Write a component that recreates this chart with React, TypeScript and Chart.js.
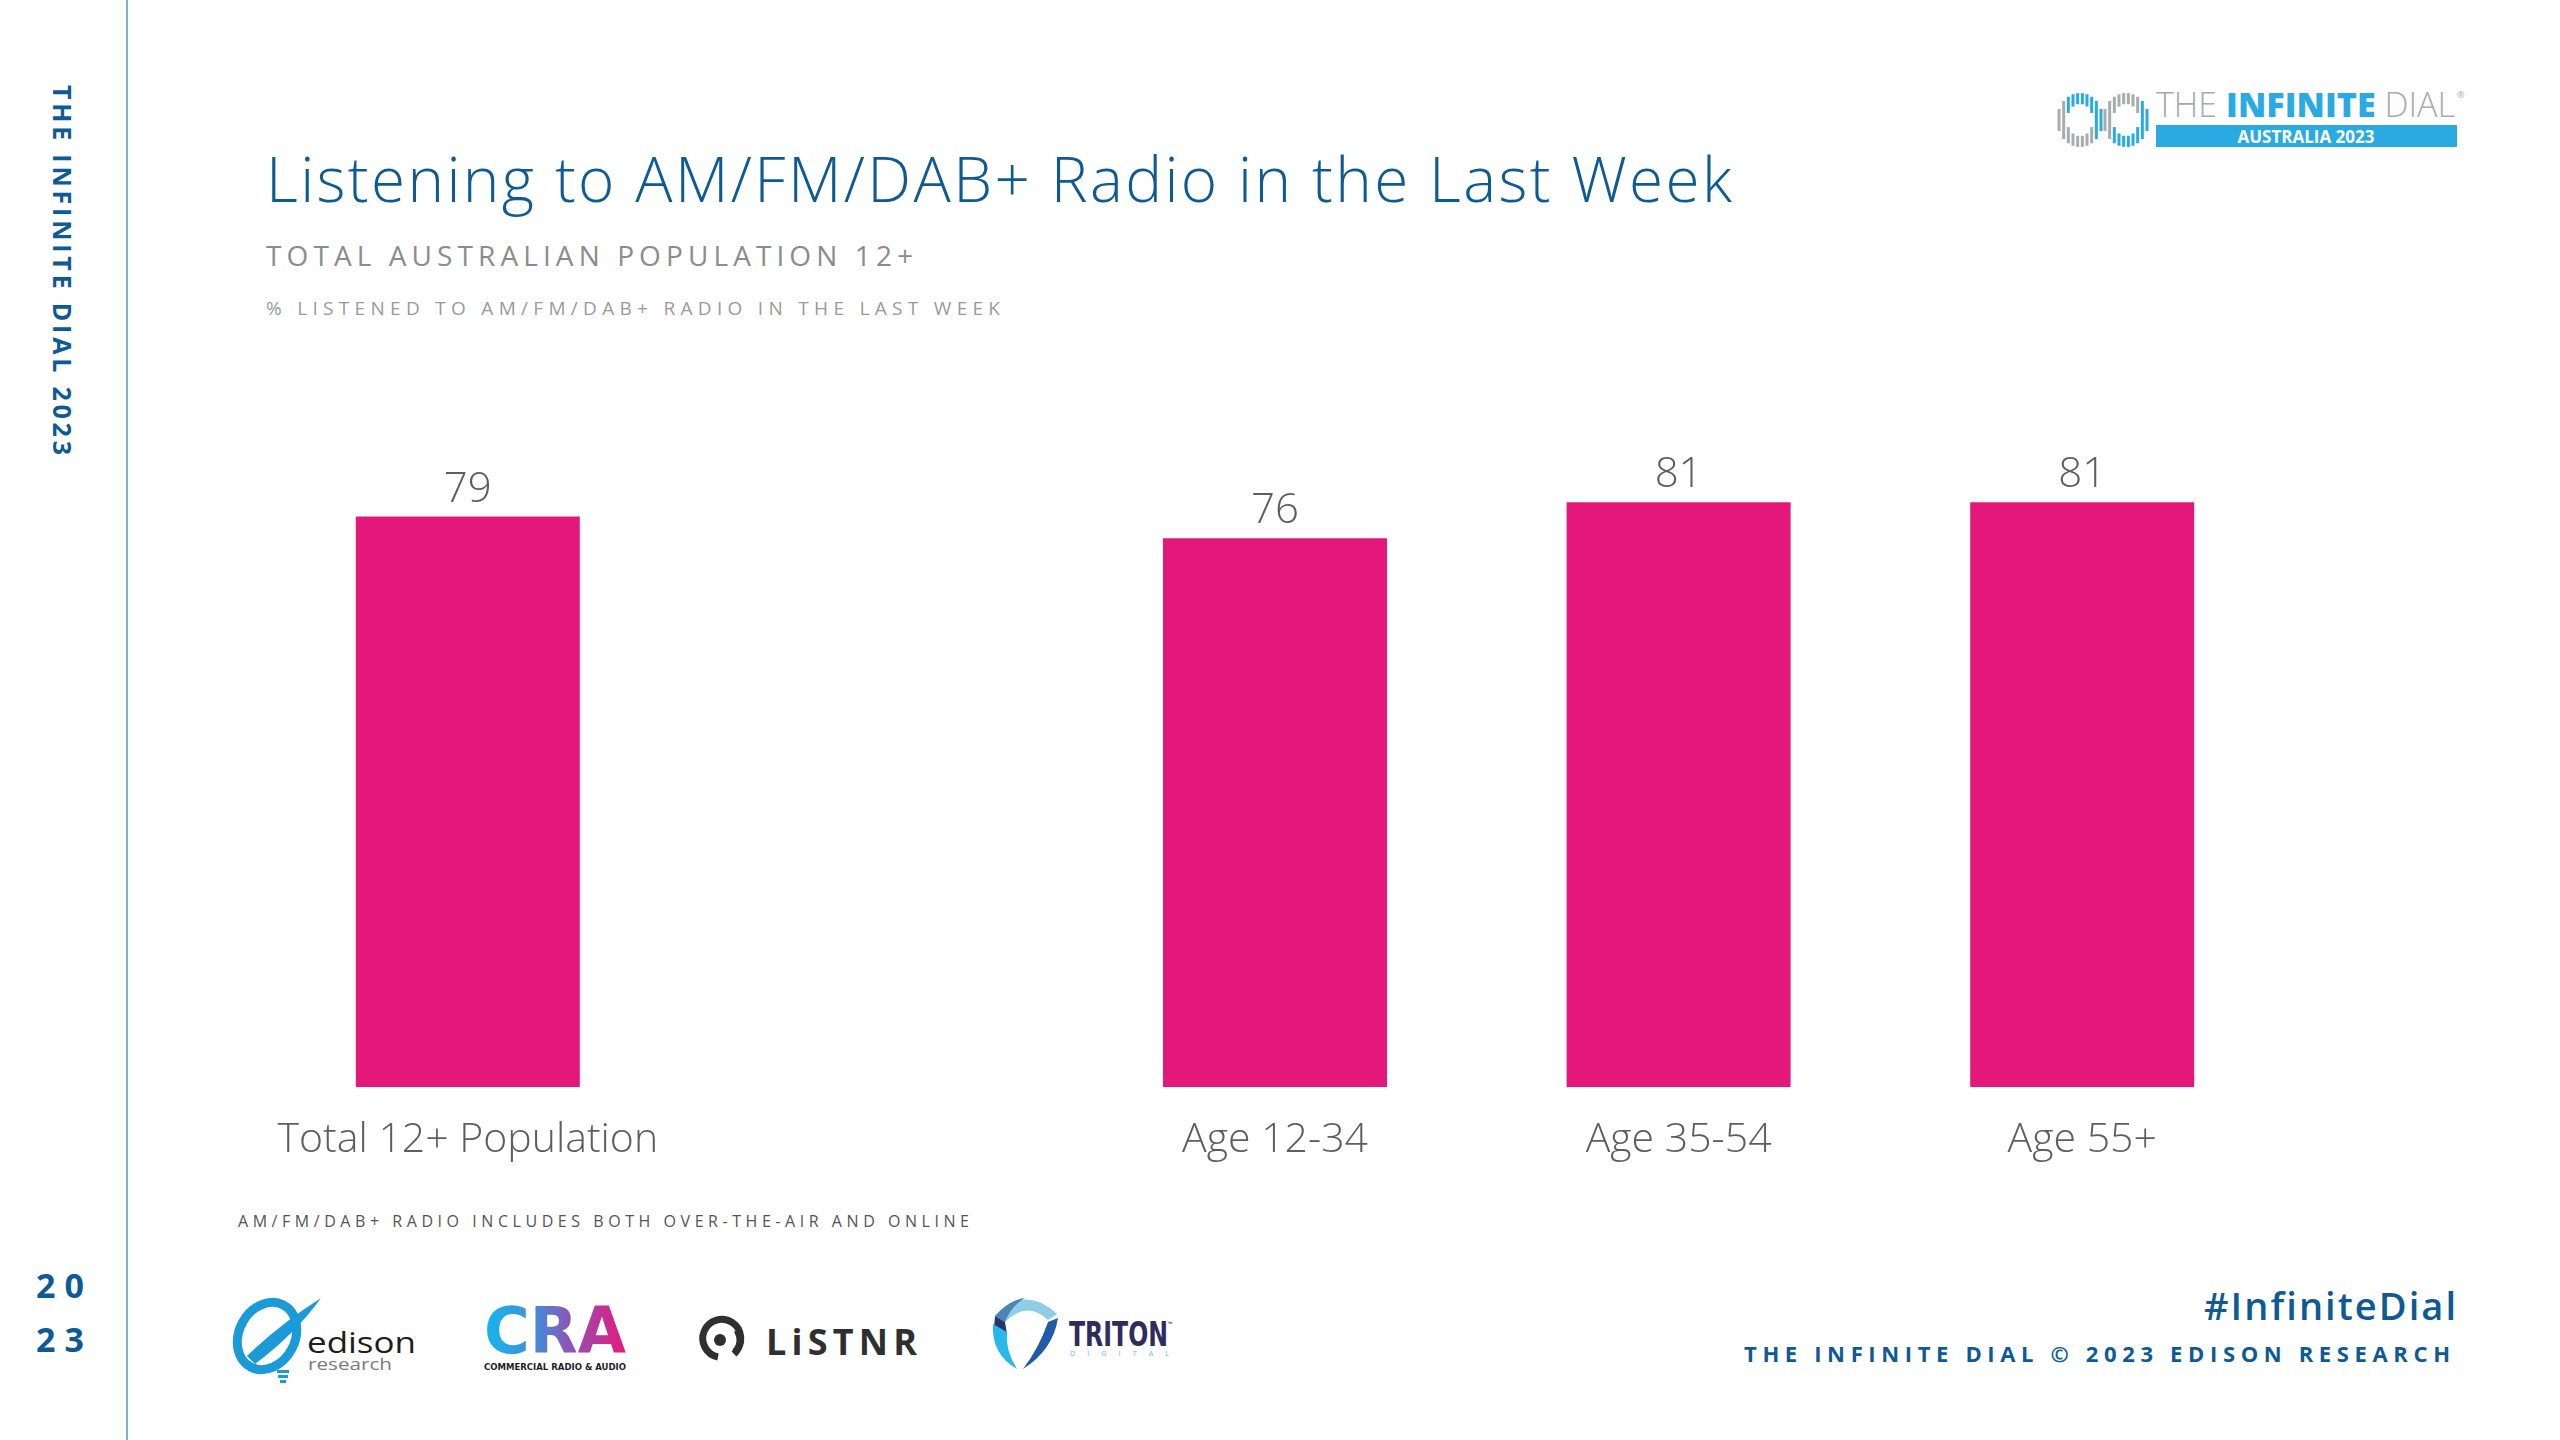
import React, { useEffect, useRef } from "react";
import { Chart, registerables } from "chart.js";

Chart.register(...registerables);

// ---------- data ----------
const categories: string[] = ["Total 12+ Population", "", "Age 12-34", "Age 35-54", "Age 55+"];
const listenedLastWeek: (number | null)[] = [79, null, 76, 81, 81];
const yAxisMin = 0;
const yAxisMax = 100;

const titleText = "Listening to AM/FM/DAB+ Radio in the Last Week";
const subtitleText = "TOTAL AUSTRALIAN POPULATION 12+";
const measureText = "% LISTENED TO AM/FM/DAB+ RADIO IN THE LAST WEEK";
const footnoteText = "AM/FM/DAB+ RADIO INCLUDES BOTH OVER-THE-AIR AND ONLINE";
const sideText = "THE INFINITE DIAL 2023";
const hashtagText = "#InfiniteDial";
const copyrightText = "THE INFINITE DIAL © 2023 EDISON RESEARCH";

// ---------- styles ----------
const FONT = "'Open Sans', 'Noto Sans', sans-serif";
const ASC = 0.888; // baseline offset for Open Sans with line-height = font-size
const BLUE = "#0e5a95";
const PINK = "#e4187b";
const LABEL_GREY = "#5e5e5e";

let measureCtx: CanvasRenderingContext2D | null = null;
function textWidth(text: string, font: string): number {
  if (!measureCtx) measureCtx = document.createElement("canvas").getContext("2d");
  measureCtx!.font = font;
  return measureCtx!.measureText(text).width;
}

type FitProps = {
  text: string;
  x: number;
  baseline: number;
  width: number;
  size: number;
  weight?: number;
  color: string;
  align?: "left" | "right";
};

function FitText({ text, x, baseline, width, size, weight = 400, color, align = "left" }: FitProps) {
  const nat = textWidth(text, `${weight} ${size}px ${FONT}`);
  const ls = text.length > 1 ? (width - nat) / (text.length - 1) : 0;
  const style: React.CSSProperties = {
    position: "absolute",
    top: baseline - ASC * size,
    fontFamily: FONT,
    fontSize: size,
    fontWeight: weight,
    color,
    letterSpacing: ls,
    lineHeight: `${size}px`,
    whiteSpace: "nowrap",
  };
  if (align === "left") style.left = x;
  else style.right = 2560 - x - ls;
  return <div style={style}>{text}</div>;
}

function SideText() {
  const size = 25;
  const weight = 700;
  const target = 370;
  const nat = textWidth(sideText, `${weight} ${size}px ${FONT}`);
  const ls = (target - nat) / (sideText.length - 1);
  return (
    <div
      style={{
        position: "absolute",
        left: 75,
        top: 85,
        transformOrigin: "0 0",
        transform: "rotate(90deg)",
        fontFamily: FONT,
        fontSize: size,
        fontWeight: weight,
        color: BLUE,
        letterSpacing: ls,
        lineHeight: `${size}px`,
        whiteSpace: "nowrap",
      }}
    >
      {sideText}
    </div>
  );
}

const valueLabels = {
  id: "valueLabels",
  afterDatasetsDraw(chart: any) {
    const ctx = chart.ctx as CanvasRenderingContext2D;
    const meta = chart.getDatasetMeta(0);
    ctx.save();
    ctx.font = `300 42px ${FONT}`;
    ctx.fillStyle = LABEL_GREY;
    ctx.textAlign = "center";
    ctx.textBaseline = "alphabetic";
    meta.data.forEach((bar: any, i: number) => {
      const v = listenedLastWeek[i];
      if (v == null) return;
      ctx.fillText(String(v), bar.x, bar.y - 15);
    });
    ctx.restore();
  },
};

function BarChart() {
  const ref = useRef<HTMLCanvasElement>(null);
  useEffect(() => {
    const chart = new Chart(ref.current!, {
      type: "bar",
      data: {
        labels: categories,
        datasets: [
          {
            data: listenedLastWeek as any,
            backgroundColor: PINK,
            borderWidth: 0,
            barPercentage: 0.555,
            categoryPercentage: 1,
          },
        ],
      },
      options: {
        responsive: false,
        animation: false,
        layout: { padding: 0 },
        plugins: { legend: { display: false }, tooltip: { enabled: false } },
        scales: {
          x: {
            grid: { display: false, drawTicks: false },
            border: { display: false },
            ticks: {
              color: LABEL_GREY,
              font: { family: FONT, size: 41, weight: 300 as any },
              padding: 29,
              maxRotation: 0,
              autoSkip: false,
            },
            afterFit: (s: any) => {
              s.height = 120;
              s.paddingLeft = 0;
              s.paddingRight = 0;
            },
          },
          y: { display: false, min: yAxisMin, max: yAxisMax },
        },
      },
      plugins: [valueLabels],
    });
    return () => chart.destroy();
  }, []);
  return (
    <canvas
      ref={ref}
      width={2018}
      height={842}
      style={{ position: "absolute", left: 266, top: 365, width: 2018, height: 842 }}
    />
  );
}

function InfiniteDialLogo() {
  const bars: React.ReactElement[] = [];
  const rings = [
    { cx: 30, left: true },
    { cx: 76, left: false },
  ];
  const Rx = 23, Ry = 27, rx = 13, ry = 16, cy = 35;
  const blue = "#29abe2", grey = "#a9abae";
  rings.forEach((r, ri) => {
    for (let k = 0; k < 10; k++) {
      const dx = -21 + k * (42 / 9);
      const oy = Ry * Math.sqrt(Math.max(0, 1 - (dx / Rx) ** 2));
      const x = r.cx + dx - 1.5;
      if (Math.abs(dx) < rx) {
        const iy = ry * Math.sqrt(Math.max(0, 1 - (dx / rx) ** 2));
        const topCol = r.left ? blue : grey;
        const botCol = r.left ? grey : blue;
        bars.push(<rect key={`t${ri}${k}`} x={x} y={cy - oy} width={3} height={oy - iy} fill={topCol} />);
        bars.push(<rect key={`b${ri}${k}`} x={x} y={cy + iy} width={3} height={oy - iy} fill={botCol} />);
      } else {
        const col = r.left ? (dx < 0 ? grey : blue) : dx > 0 ? blue : grey;
        bars.push(<rect key={`m${ri}${k}`} x={x} y={cy - oy} width={3} height={2 * oy} fill={col} />);
      }
    }
  });
  return (
    <svg style={{ position: "absolute", left: 2050, top: 85 }} width={420} height={70}>
      {bars}
      <text x={106} y={32} fontFamily={FONT} fontSize={34} textLength={299} lengthAdjust="spacing">
        <tspan fill="#a7aab0" fontWeight={300}>THE </tspan>
        <tspan fill={blue} fontWeight={800}>INFINITE</tspan>
        <tspan fill="#a7aab0" fontWeight={300}> DIAL</tspan>
      </text>
      <text x={407} y={13} fontFamily={FONT} fontSize={9} fill="#a7aab0">®</text>
      <rect x={106} y={40} width={301} height={22} fill={blue} />
      <text x={256} y={58} fontFamily={FONT} fontSize={17} fontWeight={700} fill="#ffffff" textAnchor="middle">
        AUSTRALIA 2023
      </text>
    </svg>
  );
}

function EdisonLogo() {
  const c = "#1a9ad6";
  return (
    <svg style={{ position: "absolute", left: 225, top: 1290 }} width={200} height={95}>
      <ellipse cx={42} cy={46} rx={28} ry={35} transform="rotate(28 42 46)" fill="none" stroke={c} strokeWidth={9} />
      <path d="M 22 66 Q 55 34 96 8 Q 70 44 30 74 Z" fill={c} />
      <rect x={52} y={80} width={12} height={3} fill={c} />
      <rect x={53} y={85} width={10} height={3} fill={c} />
      <rect x={55} y={90} width={6} height={3} fill={c} />
      <text x={82} y={63} fontFamily={FONT} fontSize={29} fill="#1d1d1b" textLength={109} lengthAdjust="spacingAndGlyphs">
        edison
      </text>
      <text x={83} y={80} fontFamily={FONT} fontSize={16} fill="#7a7a7a" textLength={84} lengthAdjust="spacingAndGlyphs">
        research
      </text>
    </svg>
  );
}

function CraLogo() {
  return (
    <svg style={{ position: "absolute", left: 480, top: 1298 }} width={150} height={80}>
      <defs>
        <linearGradient id="craGrad" x1="0" x2="1" y1="0" y2="0">
          <stop offset="0" stopColor="#16b6ee" />
          <stop offset="0.35" stopColor="#3f8fda" />
          <stop offset="0.62" stopColor="#9250b4" />
          <stop offset="1" stopColor="#e8197a" />
        </linearGradient>
      </defs>
      <text x={4} y={55} fontFamily="'DejaVu Sans', sans-serif" fontSize={64} fontWeight={700} fill="url(#craGrad)" textLength={142} lengthAdjust="spacingAndGlyphs">
        CRA
      </text>
      <text x={4} y={72} fontFamily="'DejaVu Sans Condensed', 'DejaVu Sans', sans-serif" fontSize={8} fontWeight={700} fill="#1e1e2a" textLength={142} lengthAdjust="spacingAndGlyphs">
        COMMERCIAL RADIO &amp; AUDIO
      </text>
    </svg>
  );
}

function ListnrLogo() {
  const c = "#2f2f2f";
  return (
    <svg style={{ position: "absolute", left: 690, top: 1310 }} width={235} height={55}>
      <path d="M 45 42 A 19 19 0 1 0 28 47" fill="none" stroke={c} strokeWidth={7} />
      <path d="M 47 20 A 19 19 0 0 1 44 44" fill="none" stroke={c} strokeWidth={7} />
      <circle cx={30} cy={30} r={6} fill={c} />
      <text x={76} y={45} fontFamily={FONT} fontSize={36} fontWeight={700} fill={c} textLength={151} lengthAdjust="spacing">
        LiSTNR
      </text>
    </svg>
  );
}

function TritonLogo() {
  return (
    <svg style={{ position: "absolute", left: 985, top: 1292 }} width={195} height={80}>
      <path d="M 10 24 Q 40 -8 72 22 L 63 28 Q 42 8 20 30 Z" fill="#8fcce6" />
      <path d="M 10 24 Q 24 8 40 6 Q 26 14 20 30 Z" fill="#4a86b4" />
      <path d="M 10 24 L 20 30 L 22 42 L 9 36 Z" fill="#2c3566" />
      <path d="M 8 32 Q 6 62 32 77 Q 20 58 22 40 Z" fill="#29b6ea" />
      <path d="M 73 26 Q 68 58 38 77 Q 54 56 63 30 Z" fill="#1f5ba6" />
      <text x={84} y={54} fontFamily="'DejaVu Sans Condensed', 'DejaVu Sans', sans-serif" fontSize={33} fontWeight={700} fill="#2f2b5c" textLength={99} lengthAdjust="spacingAndGlyphs">
        TRITON
      </text>
      <text x={183} y={34} fontFamily={FONT} fontSize={6} fill="#2f2b5c">™</text>
      <text x={85} y={64} fontFamily={FONT} fontSize={7} fill="#5bc2ea" textLength={99} lengthAdjust="spacing">
        DIGITAL
      </text>
    </svg>
  );
}

export default function App() {
  useEffect(() => {
    document.body.style.margin = "0";
  }, []);
  return (
    <div
      style={{
        position: "fixed",
        left: 0,
        top: 0,
        width: 2560,
        height: 1440,
        background: "#ffffff",
        overflow: "hidden",
        fontFamily: FONT,
      }}
    >
      <div style={{ position: "absolute", left: 126, top: 0, width: 2, height: 1440, background: "#86b0d8" }} />
      <SideText />
      <FitText text="20" x={36} baseline={1298} width={48} size={34} weight={700} color={BLUE} />
      <FitText text="23" x={36} baseline={1352} width={48} size={34} weight={700} color={BLUE} />

      <FitText text={titleText} x={266} baseline={202} width={1466} size={62} weight={300} color={BLUE} />
      <FitText text={subtitleText} x={266} baseline={266} width={647} size={28} weight={400} color="#8c8c8c" />
      <FitText text={measureText} x={266} baseline={316} width={734} size={19} weight={400} color="#9a9a9a" />

      <InfiniteDialLogo />
      <BarChart />

      <FitText text={footnoteText} x={238} baseline={1227} width={731} size={16} weight={400} color="#555555" />

      <EdisonLogo />
      <CraLogo />
      <ListnrLogo />
      <TritonLogo />

      <FitText text={hashtagText} x={2456} baseline={1320} width={252} size={38} weight={600} color={BLUE} align="right" />
      <FitText text={copyrightText} x={2450} baseline={1362} width={706} size={22} weight={700} color={BLUE} align="right" />
    </div>
  );
}
